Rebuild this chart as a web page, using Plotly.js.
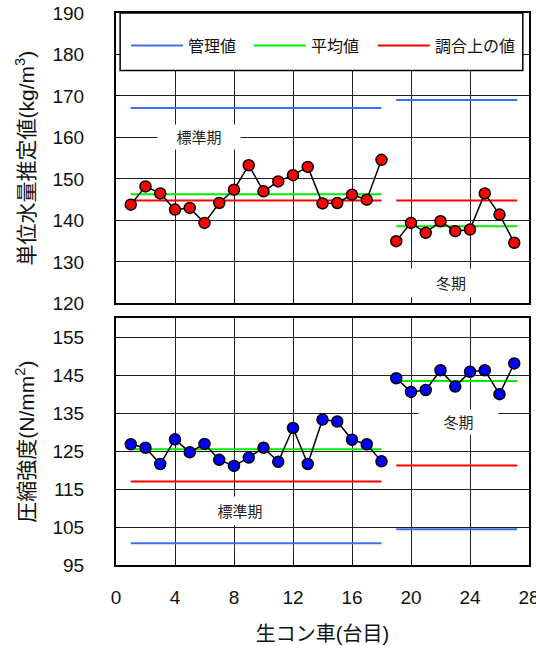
<!DOCTYPE html>
<html>
<head>
<meta charset="utf-8">
<script src="https://cdn.plot.ly/plotly-3.0.1.min.js"></script>
<style>html,body{margin:0;padding:0;background:#fff}</style>
</head>
<body>
<div id="chart" style="width:536px;height:646px"></div>
<script>
// --- data ---
const xStd = [1,2,3,4,5,6,7,8,9,10,11,12,13,14,15,16,17,18];
const xWin = [19,20,21,22,23,24,25,26,27];
const waterStd = [143.8,148.2,146.5,142.6,143.0,139.4,144.2,147.4,153.3,147.0,149.4,150.9,152.9,144.1,144.2,146.2,145.0,154.6];
const waterWin = [135.0,139.4,137.0,139.8,137.4,137.8,146.5,141.4,134.6];
const strengthStd = [126.8,125.9,121.6,128.1,124.7,126.9,122.7,121.1,123.3,125.9,122.2,131.1,121.6,133.3,132.8,128.0,126.8,122.3];
const strengthWin = [144.2,140.6,141.1,146.3,142.0,145.9,146.3,140.0,148.1];
const spanStd = [1, 18];
const spanWin = [19, 27.2];
const waterControl = [167.1, 169.0];   // [standard, winter]
const waterMean    = [146.3, 138.6];
const waterMix     = [144.8, 144.8];
const strControl   = [100.7, 104.4];
const strMean      = [125.5, 143.5];
const strMix       = [117.0, 121.2];
const legendNames = ['管理値','平均値','調合上の値'];
const periodNames = ['標準期','冬期'];
const xTicks = [0,4,8,12,16,20,24,28];

const FONT = 'Liberation Sans, Arial, "Noto Sans CJK JP", sans-serif';
const colors = {control:'#3f6ff0', mean:'#00ee00', mix:'#ff0000'};

function refLines(vals, xa, ya, color, name, showLegend, legendId){
  return [
    {x: spanStd, y: [vals[0], vals[0]], xaxis: xa, yaxis: ya, mode:'lines', line:{color, width:2},
     name, legendgroup:name, showlegend: showLegend, legend: legendId, hoverinfo:'skip'},
    {x: spanWin, y: [vals[1], vals[1]], xaxis: xa, yaxis: ya, mode:'lines', line:{color, width:2},
     name, legendgroup:name, showlegend: false, legend: legendId, hoverinfo:'skip'}
  ];
}
function series(x, y, xa, ya, fill){
  return {x, y, xaxis: xa, yaxis: ya, mode:'lines+markers', showlegend:false,
    line:{color:'#000', width:1.5},
    marker:{size:11, color:fill, line:{color:'#000', width:1.5}}};
}

const traces = [
  ...refLines(waterControl,'x2','y2',colors.control,legendNames[0],true,'legend'),
  ...refLines(waterMean,'x2','y2',colors.mean,legendNames[1],true,'legend2'),
  ...refLines(waterMix,'x2','y2',colors.mix,legendNames[2],true,'legend3'),
  ...refLines(strControl,'x','y',colors.control,legendNames[0],false,'legend'),
  ...refLines(strMean,'x','y',colors.mean,legendNames[1],false,'legend2'),
  ...refLines(strMix,'x','y',colors.mix,legendNames[2],false,'legend3'),
  series(xStd, waterStd, 'x2','y2','#ff0000'),
  series(xWin, waterWin, 'x2','y2','#ff0000'),
  series(xStd, strengthStd, 'x','y','#0000ff'),
  series(xWin, strengthWin, 'x','y','#0000ff')
];

const gridc = '#222';
const axBase = {showline:true, linecolor:'#000', linewidth:2, mirror:true,
  showgrid:true, gridcolor:gridc, gridwidth:1, zeroline:false,
  ticks:'inside', ticklen:4, tickcolor:'#000', ticklabeloverflow:'allow',
  tickfont:{family:FONT, size:19, color:'#111'}};

function legendAt(xp){
  return {orientation:'h', x:xp, xanchor:'left', y:0.941, yanchor:'middle',
    bgcolor:'rgba(0,0,0,0)', borderwidth:0, itemwidth:52,
    font:{family:FONT, size:16, color:'#111'}};
}

const layout = {
  width:536, height:646,
  margin:{l:116, r:7, t:12.5, b:80.5},
  paper_bgcolor:'#fff', plot_bgcolor:'#fff',
  font:{family:FONT, color:'#111'},
  showlegend:true,
  xaxis: Object.assign({}, axBase, {domain:[0,1], anchor:'y', range:[0,28], tickvals:xTicks,
    ticklabelstandoff:14,
    title:{text:'生コン車(台目)', font:{family:FONT, size:20, color:'#111'}, standoff:20}}),
  yaxis: Object.assign({}, axBase, {domain:[0,0.447], anchor:'x', range:[95,160], tickvals:[95,105,115,125,135,145,155],
    ticklabelstandoff:26,
    title:{text:'圧縮強度(N/mm<sup>2</sup>)', font:{family:FONT, size:21, color:'#111'}, standoff:12}}),
  xaxis2: Object.assign({}, axBase, {domain:[0,1], anchor:'y2', range:[0,28], tickvals:xTicks, showticklabels:false, matches:'x'}),
  yaxis2: Object.assign({}, axBase, {domain:[0.474,1], anchor:'x2', range:[120,190], tickvals:[120,130,140,150,160,170,180,190],
    ticklabelstandoff:26,
    title:{text:'単位水量推定値(kg/m<sup>3</sup>)', font:{family:FONT, size:21, color:'#111'}, standoff:12}}),
  legend: legendAt(0.0242),
  legend2: legendAt(0.322),
  legend3: legendAt(0.622),
  shapes:[
    {type:'rect', xref:'paper', yref:'paper', x0:0.01, x1:0.985, y0:0.896, y1:1.0,
     fillcolor:'#fff', line:{color:'#000', width:1.5}, layer:'above'}
  ],
  annotations:[
    {xref:'x2', yref:'y2', x:5.66, y:160.1, text:periodNames[0], showarrow:false, bgcolor:'#fff',
     width:80, height:22, font:{family:FONT, size:15, color:'#222'}},
    {xref:'x2', yref:'y2', x:22.7, y:124.9, text:periodNames[1], showarrow:false, bgcolor:'#fff',
     width:86, height:26, font:{family:FONT, size:15, color:'#222'}},
    {xref:'x', yref:'y', x:23.2, y:132.8, text:periodNames[1], showarrow:false, bgcolor:'#fff',
     width:77, height:22, font:{family:FONT, size:15, color:'#222'}},
    {xref:'x', yref:'y', x:8.4, y:109.1, text:periodNames[0], showarrow:false, bgcolor:'#fff',
     width:80, height:26, font:{family:FONT, size:15, color:'#222'}}
  ]
};

Plotly.newPlot('chart', traces, layout, {displayModeBar:false, staticPlot:true});
</script>
</body>
</html>
